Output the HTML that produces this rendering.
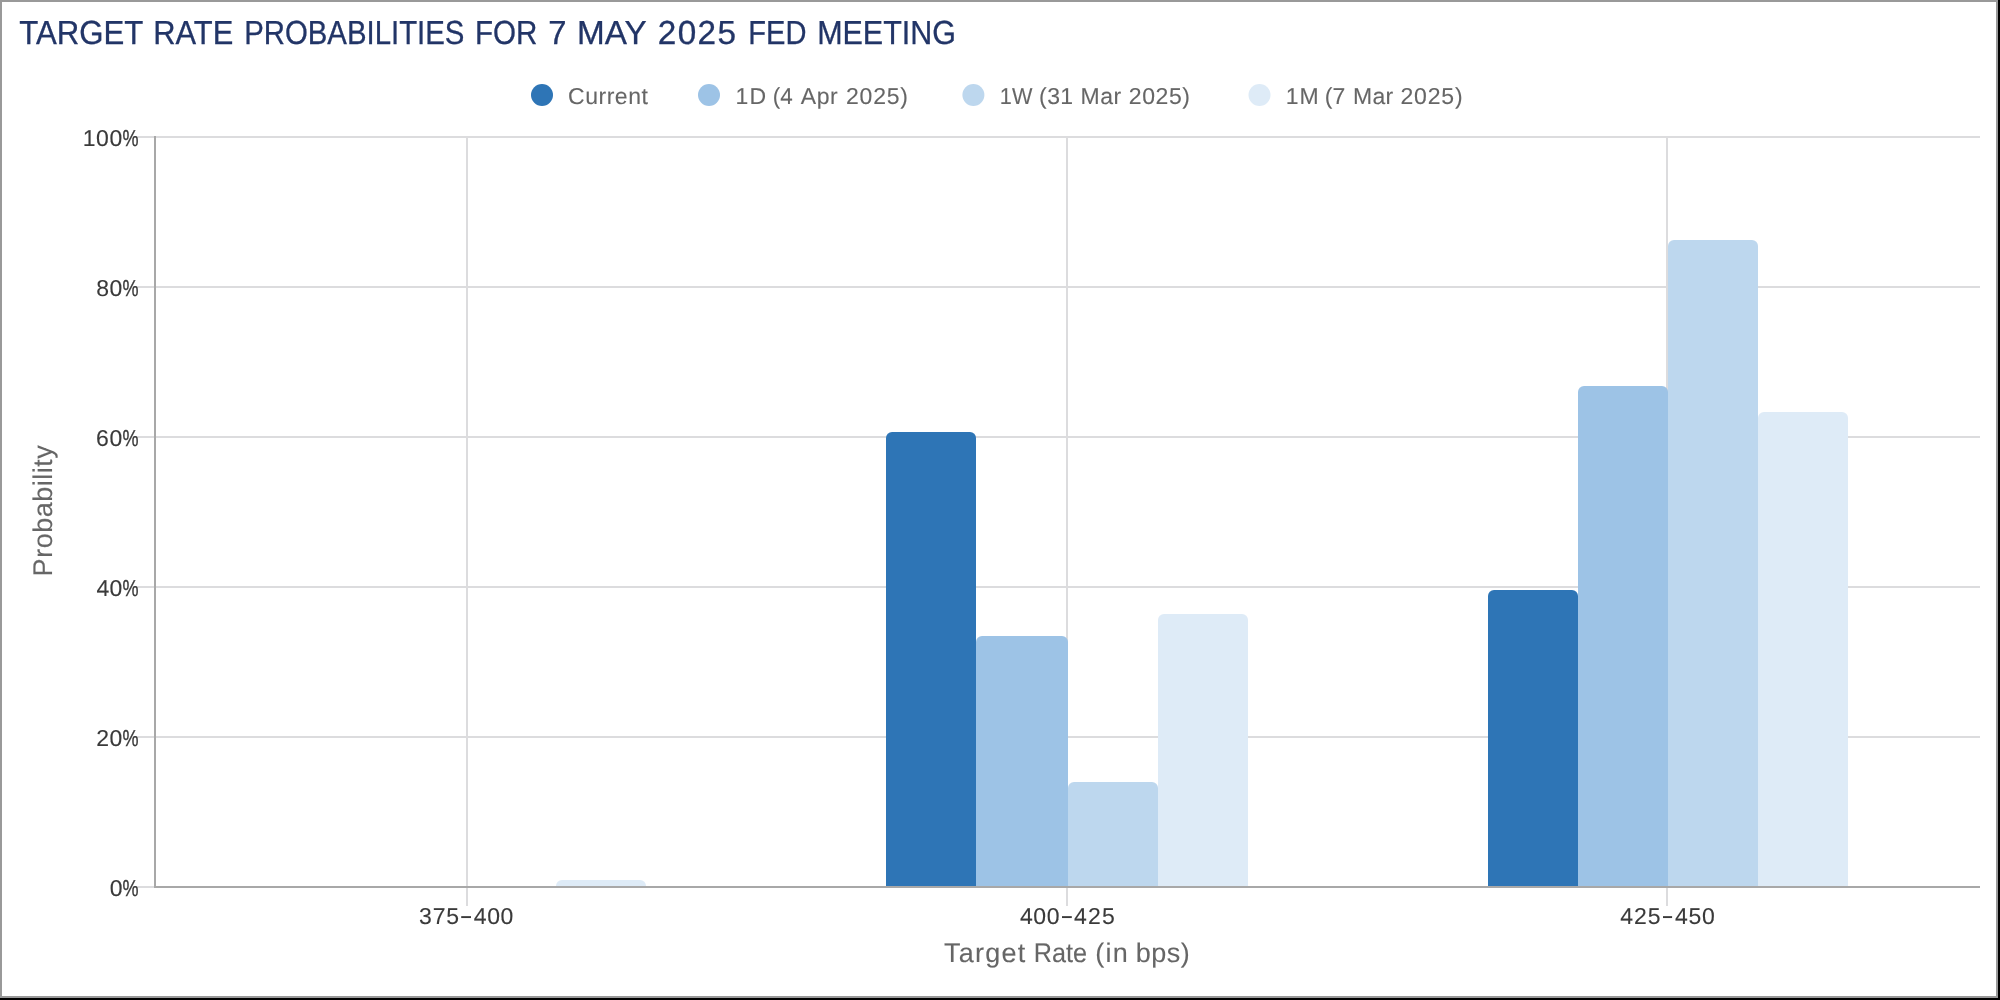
<!DOCTYPE html>
<html>
<head>
<meta charset="utf-8">
<title>Target Rate Probabilities</title>
<style>
html, body { margin: 0; padding: 0; background: #000; }
body { width: 2000px; height: 1000px; overflow: hidden; font-family: "Liberation Sans", sans-serif; }
#frame { position: absolute; left: 0; top: 0; width: 1994px; height: 994px; border: 2px solid #999; background: #fff; }
svg { position: absolute; left: 0; top: 0; will-change: transform; }
svg text { font-family: "Liberation Sans", sans-serif; white-space: pre; }
</style>
</head>
<body>
<div id="frame"></div>
<svg width="2000" height="1000" viewBox="0 0 2000 1000">
<rect x="134" y="136" width="1846" height="2" fill="#dcdcde"/>
<rect x="134" y="286" width="1846" height="2" fill="#dcdcde"/>
<rect x="134" y="436" width="1846" height="2" fill="#dcdcde"/>
<rect x="134" y="586" width="1846" height="2" fill="#dcdcde"/>
<rect x="134" y="736" width="1846" height="2" fill="#dcdcde"/>
<rect x="134" y="886" width="1846" height="2" fill="#dcdcde"/>
<rect x="466" y="137" width="2" height="769" fill="#dcdcde"/>
<rect x="1066" y="137" width="2" height="769" fill="#dcdcde"/>
<rect x="1666" y="137" width="2" height="769" fill="#dcdcde"/>
<path d="M556 887V886a6 6 0 0 1 6 -6H640a6 6 0 0 1 6 6V887Z" fill="#deebf7"/>
<path d="M886 887V438a6 6 0 0 1 6 -6H970a6 6 0 0 1 6 6V887Z" fill="#2e75b6"/>
<path d="M976 887V642a6 6 0 0 1 6 -6H1062a6 6 0 0 1 6 6V887Z" fill="#9dc3e6"/>
<path d="M1068 887V788a6 6 0 0 1 6 -6H1152a6 6 0 0 1 6 6V887Z" fill="#bdd7ee"/>
<path d="M1158 887V620a6 6 0 0 1 6 -6H1242a6 6 0 0 1 6 6V887Z" fill="#deebf7"/>
<path d="M1488 887V596a6 6 0 0 1 6 -6H1572a6 6 0 0 1 6 6V887Z" fill="#2e75b6"/>
<path d="M1578 887V392a6 6 0 0 1 6 -6H1662a6 6 0 0 1 6 6V887Z" fill="#9dc3e6"/>
<path d="M1668 887V246a6 6 0 0 1 6 -6H1752a6 6 0 0 1 6 6V887Z" fill="#bdd7ee"/>
<path d="M1758 887V418a6 6 0 0 1 6 -6H1842a6 6 0 0 1 6 6V887Z" fill="#deebf7"/>
<rect x="154" y="136" width="2" height="752" fill="#a8a8a8"/>
<rect x="154" y="886" width="1826" height="2" fill="#a8a8a8"/>
<circle cx="542" cy="95" r="11" fill="#2e75b6"/>
<circle cx="709" cy="95" r="11" fill="#9dc3e6"/>
<circle cx="973.4" cy="95" r="11" fill="#bdd7ee"/>
<circle cx="1259.5" cy="95" r="11" fill="#deebf7"/>
<rect x="461.2" y="916.15" width="9.8" height="1.9" fill="#3a3a3a"/>
<rect x="1062.0" y="916.15" width="9.8" height="1.9" fill="#3a3a3a"/>
<rect x="1663.0" y="916.15" width="9.1" height="1.9" fill="#3a3a3a"/>
<g text-rendering="geometricPrecision">
<text transform="translate(19.26 43.9) scale(0.9359 1)" font-size="33.3" fill="#223567" stroke="#223567" stroke-width="0.3">TARGET</text>
<text transform="translate(153.22 43.9) scale(0.9268 1)" font-size="33.3" fill="#223567" stroke="#223567" stroke-width="0.3">RATE</text>
<text transform="translate(244.16 43.9) scale(0.8816 1)" font-size="33.3" fill="#223567" stroke="#223567" stroke-width="0.3">PROBABILITIES</text>
<text transform="translate(475.04 43.9) scale(0.8879 1)" font-size="33.3" fill="#223567" stroke="#223567" stroke-width="0.3">FOR</text>
<text transform="translate(548.33 43.9) scale(0.9867 1)" font-size="33.3" fill="#223567" stroke="#223567" stroke-width="0.3">7</text>
<text transform="translate(577.00 43.9) scale(1.0000 1)" font-size="33.3" fill="#223567" stroke="#223567" stroke-width="0.3">MAY</text>
<text transform="translate(657.80 43.9) scale(1.0000 1)" font-size="33.3" fill="#223567" stroke="#223567" stroke-width="0.3" letter-spacing="1.367">2025</text>
<text transform="translate(748.28 43.9) scale(0.8726 1)" font-size="33.3" fill="#223567" stroke="#223567" stroke-width="0.3">FED</text>
<text transform="translate(817.15 43.9) scale(0.9151 1)" font-size="33.3" fill="#223567" stroke="#223567" stroke-width="0.3">MEETING</text>
<text transform="translate(568.00 103.9) scale(1.0000 1)" font-size="23" fill="#666666" stroke="#666666" stroke-width="0.1" letter-spacing="0.533">Current</text>
<text transform="translate(735.60 103.9) scale(1.0000 1)" font-size="23" fill="#666666" stroke="#666666" stroke-width="0.1" letter-spacing="1.100">1D</text>
<text transform="translate(772.73 103.9) scale(0.9737 1)" font-size="23" fill="#666666" stroke="#666666" stroke-width="0.1">(4</text>
<text transform="translate(800.80 103.9) scale(1.0000 1)" font-size="23" fill="#666666" stroke="#666666" stroke-width="0.1" letter-spacing="0.500">Apr</text>
<text transform="translate(845.90 103.9) scale(1.0000 1)" font-size="23" fill="#666666" stroke="#666666" stroke-width="0.1" letter-spacing="0.825">2025)</text>
<text transform="translate(999.81 103.9) scale(0.9438 1)" font-size="23" fill="#666666" stroke="#666666" stroke-width="0.1">1W</text>
<text transform="translate(1039.10 103.9) scale(1.0000 1)" font-size="23" fill="#666666" stroke="#666666" stroke-width="0.1" letter-spacing="0.400">(31</text>
<text transform="translate(1080.60 103.9) scale(1.0000 1)" font-size="23" fill="#666666" stroke="#666666" stroke-width="0.1" letter-spacing="0.500">Mar</text>
<text transform="translate(1128.80 103.9) scale(1.0000 1)" font-size="23" fill="#666666" stroke="#666666" stroke-width="0.1" letter-spacing="0.600">2025)</text>
<text transform="translate(1285.80 103.9) scale(1.0000 1)" font-size="23" fill="#666666" stroke="#666666" stroke-width="0.1" letter-spacing="0.800">1M</text>
<text transform="translate(1324.80 103.9) scale(1.0000 1)" font-size="23" fill="#666666" stroke="#666666" stroke-width="0.1">(7</text>
<text transform="translate(1353.10 103.9) scale(1.0000 1)" font-size="23" fill="#666666" stroke="#666666" stroke-width="0.1" letter-spacing="0.250">Mar</text>
<text transform="translate(1400.40 103.9) scale(1.0000 1)" font-size="23" fill="#666666" stroke="#666666" stroke-width="0.1" letter-spacing="0.850">2025)</text>
<text transform="translate(82.70 146.1) scale(1.0000 1)" font-size="23" fill="#3a3a3a" stroke="#3a3a3a" stroke-width="0.1" letter-spacing="0.550">100</text>
<text transform="translate(122.42 146.1) scale(0.7842 1)" font-size="23" fill="#3a3a3a" stroke="#3a3a3a" stroke-width="0.35">%</text>
<text transform="translate(96.15 296.1) scale(1.0000 1)" font-size="23" fill="#3a3a3a" stroke="#3a3a3a" stroke-width="0.1" letter-spacing="0.650">80</text>
<text transform="translate(122.42 296.1) scale(0.7842 1)" font-size="23" fill="#3a3a3a" stroke="#3a3a3a" stroke-width="0.35">%</text>
<text transform="translate(96.00 446.1) scale(1.0000 1)" font-size="23" fill="#3a3a3a" stroke="#3a3a3a" stroke-width="0.1" letter-spacing="0.800">60</text>
<text transform="translate(122.42 446.1) scale(0.7842 1)" font-size="23" fill="#3a3a3a" stroke="#3a3a3a" stroke-width="0.35">%</text>
<text transform="translate(96.50 596.1) scale(1.0000 1)" font-size="23" fill="#3a3a3a" stroke="#3a3a3a" stroke-width="0.1" letter-spacing="0.300">40</text>
<text transform="translate(122.42 596.1) scale(0.7842 1)" font-size="23" fill="#3a3a3a" stroke="#3a3a3a" stroke-width="0.35">%</text>
<text transform="translate(96.20 746.1) scale(1.0000 1)" font-size="23" fill="#3a3a3a" stroke="#3a3a3a" stroke-width="0.1" letter-spacing="0.600">20</text>
<text transform="translate(122.42 746.1) scale(0.7842 1)" font-size="23" fill="#3a3a3a" stroke="#3a3a3a" stroke-width="0.35">%</text>
<text transform="translate(109.80 896.1) scale(1.0000 1)" font-size="23" fill="#3a3a3a" stroke="#3a3a3a" stroke-width="0.1">0</text>
<text transform="translate(122.42 896.1) scale(0.7842 1)" font-size="23" fill="#3a3a3a" stroke="#3a3a3a" stroke-width="0.35">%</text>
<text transform="translate(419.00 924) scale(1.0000 1)" font-size="23" fill="#3a3a3a" stroke="#3a3a3a" stroke-width="0.1" letter-spacing="0.850">375</text>
<text transform="translate(473.80 924) scale(1.0000 1)" font-size="23" fill="#3a3a3a" stroke="#3a3a3a" stroke-width="0.1" letter-spacing="0.600">400</text>
<text transform="translate(1019.90 924) scale(1.0000 1)" font-size="23" fill="#3a3a3a" stroke="#3a3a3a" stroke-width="0.1" letter-spacing="0.650">400</text>
<text transform="translate(1074.00 924) scale(1.0000 1)" font-size="23" fill="#3a3a3a" stroke="#3a3a3a" stroke-width="0.1" letter-spacing="1.200">425</text>
<text transform="translate(1620.30 924) scale(1.0000 1)" font-size="23" fill="#3a3a3a" stroke="#3a3a3a" stroke-width="0.1" letter-spacing="0.950">425</text>
<text transform="translate(1674.90 924) scale(1.0000 1)" font-size="23" fill="#3a3a3a" stroke="#3a3a3a" stroke-width="0.1" letter-spacing="0.750">450</text>
<text transform="translate(943.90 961.7) scale(1.0000 1)" font-size="27" fill="#666666" stroke="#666666" stroke-width="0.1" letter-spacing="1.240">Target</text>
<text transform="translate(1033.83 961.7) scale(0.9333 1)" font-size="27" fill="#666666" stroke="#666666" stroke-width="0.1">Rate</text>
<text transform="translate(1095.30 961.7) scale(1.0000 1)" font-size="27" fill="#666666" stroke="#666666" stroke-width="0.1" letter-spacing="1.250">(in</text>
<text transform="translate(1135.70 961.7) scale(1.0000 1)" font-size="27" fill="#666666" stroke="#666666" stroke-width="0.1" letter-spacing="0.467">bps)</text>
<text transform="translate(52.2 574.4) rotate(-90) translate(-2.00 0) scale(1.0000 1)" font-size="27" fill="#666666" stroke="#666666" stroke-width="0.1" letter-spacing="0.520">Probability</text>
</g>
</svg>
</body>
</html>
